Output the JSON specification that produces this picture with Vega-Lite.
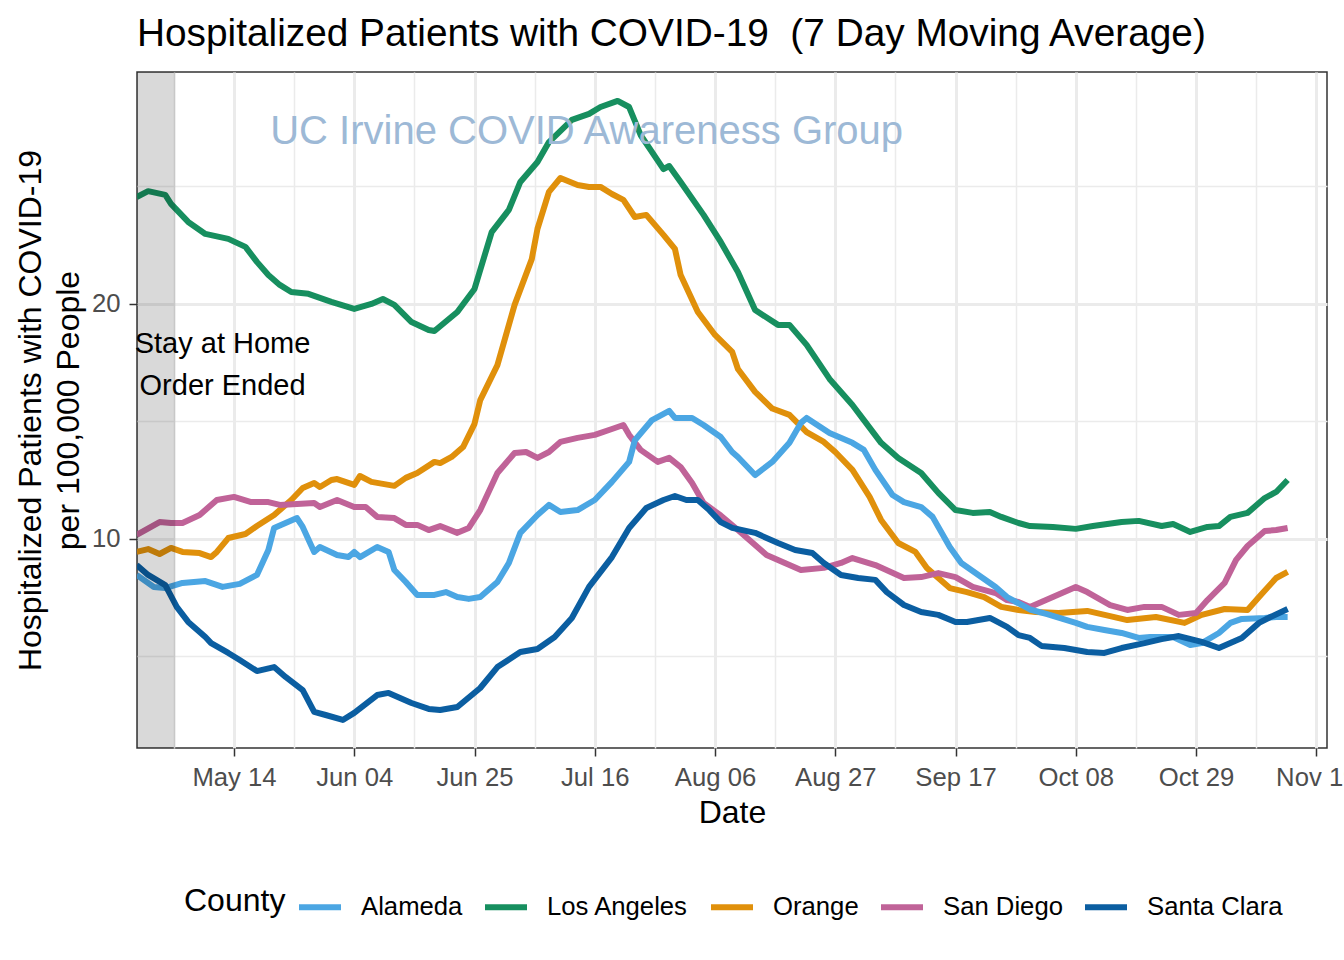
{
"$schema":"https://vega.github.io/schema/vega-lite/v6.json",
"autosize":{"type":"none"},
"width":1190,"height":676,
"padding":{"left":137,"top":72,"right":17,"bottom":212},
"background":"white",
"config":{
 "font":"Liberation Sans",
 "view":{"stroke":"#333333","strokeWidth":1.5},
 "axis":{"domain":false,"gridColor":"#EBEBEB","tickColor":"#333333","tickSize":8,"tickWidth":1.5,"labelColor":"#4D4D4D","labelFontSize":25.7,"titleFontSize":32,"titleFontWeight":"normal","titleColor":"#000000","labelFont":"Liberation Sans","titleFont":"Liberation Sans","labelOverlap":false,"labelFlush":false}
},
"title":{"text":"Hospitalized Patients with COVID-19\u00a0 (7 Day Moving Average)","anchor":"start","frame":"group","fontSize":38.8,"fontWeight":"normal","color":"#000000","offset":18,"font":"Liberation Sans"},
"layer":[
{
"data":{"values":[
{"County":"Los Angeles","Date":"2020-04-27","Value":24.55},
{"County":"Los Angeles","Date":"2020-04-29","Value":24.8},
{"County":"Los Angeles","Date":"2020-05-02","Value":24.64},
{"County":"Los Angeles","Date":"2020-05-03","Value":24.26},
{"County":"Los Angeles","Date":"2020-05-06","Value":23.49},
{"County":"Los Angeles","Date":"2020-05-09","Value":22.98},
{"County":"Los Angeles","Date":"2020-05-13","Value":22.77},
{"County":"Los Angeles","Date":"2020-05-16","Value":22.43},
{"County":"Los Angeles","Date":"2020-05-18","Value":21.79},
{"County":"Los Angeles","Date":"2020-05-20","Value":21.23},
{"County":"Los Angeles","Date":"2020-05-22","Value":20.81},
{"County":"Los Angeles","Date":"2020-05-24","Value":20.51},
{"County":"Los Angeles","Date":"2020-05-27","Value":20.43},
{"County":"Los Angeles","Date":"2020-05-31","Value":20.09},
{"County":"Los Angeles","Date":"2020-06-04","Value":19.79},
{"County":"Los Angeles","Date":"2020-06-07","Value":20.0},
{"County":"Los Angeles","Date":"2020-06-09","Value":20.21},
{"County":"Los Angeles","Date":"2020-06-11","Value":19.96},
{"County":"Los Angeles","Date":"2020-06-14","Value":19.23},
{"County":"Los Angeles","Date":"2020-06-17","Value":18.89},
{"County":"Los Angeles","Date":"2020-06-18","Value":18.85},
{"County":"Los Angeles","Date":"2020-06-22","Value":19.66},
{"County":"Los Angeles","Date":"2020-06-25","Value":20.64},
{"County":"Los Angeles","Date":"2020-06-28","Value":23.06},
{"County":"Los Angeles","Date":"2020-07-01","Value":24.0},
{"County":"Los Angeles","Date":"2020-07-03","Value":25.19},
{"County":"Los Angeles","Date":"2020-07-06","Value":26.04},
{"County":"Los Angeles","Date":"2020-07-08","Value":26.89},
{"County":"Los Angeles","Date":"2020-07-12","Value":27.83},
{"County":"Los Angeles","Date":"2020-07-15","Value":28.09},
{"County":"Los Angeles","Date":"2020-07-17","Value":28.38},
{"County":"Los Angeles","Date":"2020-07-20","Value":28.64},
{"County":"Los Angeles","Date":"2020-07-22","Value":28.38},
{"County":"Los Angeles","Date":"2020-07-24","Value":27.19},
{"County":"Los Angeles","Date":"2020-07-28","Value":25.74},
{"County":"Los Angeles","Date":"2020-07-29","Value":25.87},
{"County":"Los Angeles","Date":"2020-07-31","Value":25.19},
{"County":"Los Angeles","Date":"2020-08-04","Value":23.79},
{"County":"Los Angeles","Date":"2020-08-07","Value":22.64},
{"County":"Los Angeles","Date":"2020-08-10","Value":21.36},
{"County":"Los Angeles","Date":"2020-08-13","Value":19.74},
{"County":"Los Angeles","Date":"2020-08-17","Value":19.11},
{"County":"Los Angeles","Date":"2020-08-19","Value":19.11},
{"County":"Los Angeles","Date":"2020-08-22","Value":18.26},
{"County":"Los Angeles","Date":"2020-08-26","Value":16.81},
{"County":"Los Angeles","Date":"2020-08-30","Value":15.7},
{"County":"Los Angeles","Date":"2020-09-01","Value":15.06},
{"County":"Los Angeles","Date":"2020-09-04","Value":14.09},
{"County":"Los Angeles","Date":"2020-09-07","Value":13.45},
{"County":"Los Angeles","Date":"2020-09-11","Value":12.81},
{"County":"Los Angeles","Date":"2020-09-14","Value":11.96},
{"County":"Los Angeles","Date":"2020-09-17","Value":11.23},
{"County":"Los Angeles","Date":"2020-09-20","Value":11.11},
{"County":"Los Angeles","Date":"2020-09-23","Value":11.15},
{"County":"Los Angeles","Date":"2020-09-25","Value":10.94},
{"County":"Los Angeles","Date":"2020-09-28","Value":10.68},
{"County":"Los Angeles","Date":"2020-09-30","Value":10.55},
{"County":"Los Angeles","Date":"2020-10-04","Value":10.51},
{"County":"Los Angeles","Date":"2020-10-08","Value":10.43},
{"County":"Los Angeles","Date":"2020-10-11","Value":10.55},
{"County":"Los Angeles","Date":"2020-10-16","Value":10.72},
{"County":"Los Angeles","Date":"2020-10-19","Value":10.77},
{"County":"Los Angeles","Date":"2020-10-23","Value":10.55},
{"County":"Los Angeles","Date":"2020-10-25","Value":10.64},
{"County":"Los Angeles","Date":"2020-10-28","Value":10.3},
{"County":"Los Angeles","Date":"2020-10-31","Value":10.51},
{"County":"Los Angeles","Date":"2020-11-02","Value":10.55},
{"County":"Los Angeles","Date":"2020-11-04","Value":10.94},
{"County":"Los Angeles","Date":"2020-11-07","Value":11.11},
{"County":"Los Angeles","Date":"2020-11-10","Value":11.74},
{"County":"Los Angeles","Date":"2020-11-12","Value":12.0},
{"County":"Los Angeles","Date":"2020-11-14","Value":12.51},
{"County":"Orange","Date":"2020-04-27","Value":9.45},
{"County":"Orange","Date":"2020-04-29","Value":9.57},
{"County":"Orange","Date":"2020-05-01","Value":9.36},
{"County":"Orange","Date":"2020-05-03","Value":9.62},
{"County":"Orange","Date":"2020-05-05","Value":9.45},
{"County":"Orange","Date":"2020-05-08","Value":9.4},
{"County":"Orange","Date":"2020-05-10","Value":9.23},
{"County":"Orange","Date":"2020-05-11","Value":9.45},
{"County":"Orange","Date":"2020-05-13","Value":10.04},
{"County":"Orange","Date":"2020-05-16","Value":10.21},
{"County":"Orange","Date":"2020-05-18","Value":10.55},
{"County":"Orange","Date":"2020-05-21","Value":11.02},
{"County":"Orange","Date":"2020-05-24","Value":11.66},
{"County":"Orange","Date":"2020-05-26","Value":12.17},
{"County":"Orange","Date":"2020-05-28","Value":12.38},
{"County":"Orange","Date":"2020-05-29","Value":12.21},
{"County":"Orange","Date":"2020-05-31","Value":12.51},
{"County":"Orange","Date":"2020-06-01","Value":12.55},
{"County":"Orange","Date":"2020-06-04","Value":12.3},
{"County":"Orange","Date":"2020-06-05","Value":12.68},
{"County":"Orange","Date":"2020-06-07","Value":12.43},
{"County":"Orange","Date":"2020-06-11","Value":12.26},
{"County":"Orange","Date":"2020-06-13","Value":12.6},
{"County":"Orange","Date":"2020-06-15","Value":12.81},
{"County":"Orange","Date":"2020-06-18","Value":13.28},
{"County":"Orange","Date":"2020-06-19","Value":13.23},
{"County":"Orange","Date":"2020-06-21","Value":13.49},
{"County":"Orange","Date":"2020-06-23","Value":13.91},
{"County":"Orange","Date":"2020-06-25","Value":14.9},
{"County":"Orange","Date":"2020-06-26","Value":15.91},
{"County":"Orange","Date":"2020-06-29","Value":17.4},
{"County":"Orange","Date":"2020-07-02","Value":19.96},
{"County":"Orange","Date":"2020-07-05","Value":21.91},
{"County":"Orange","Date":"2020-07-06","Value":23.2},
{"County":"Orange","Date":"2020-07-08","Value":24.77},
{"County":"Orange","Date":"2020-07-10","Value":25.36},
{"County":"Orange","Date":"2020-07-13","Value":25.06},
{"County":"Orange","Date":"2020-07-15","Value":24.98},
{"County":"Orange","Date":"2020-07-17","Value":24.98},
{"County":"Orange","Date":"2020-07-19","Value":24.68},
{"County":"Orange","Date":"2020-07-21","Value":24.43},
{"County":"Orange","Date":"2020-07-23","Value":23.7},
{"County":"Orange","Date":"2020-07-25","Value":23.79},
{"County":"Orange","Date":"2020-07-28","Value":22.94},
{"County":"Orange","Date":"2020-07-30","Value":22.34},
{"County":"Orange","Date":"2020-07-31","Value":21.23},
{"County":"Orange","Date":"2020-08-03","Value":19.66},
{"County":"Orange","Date":"2020-08-06","Value":18.68},
{"County":"Orange","Date":"2020-08-09","Value":17.96},
{"County":"Orange","Date":"2020-08-10","Value":17.23},
{"County":"Orange","Date":"2020-08-13","Value":16.26},
{"County":"Orange","Date":"2020-08-16","Value":15.55},
{"County":"Orange","Date":"2020-08-19","Value":15.28},
{"County":"Orange","Date":"2020-08-22","Value":14.55},
{"County":"Orange","Date":"2020-08-25","Value":14.13},
{"County":"Orange","Date":"2020-08-27","Value":13.7},
{"County":"Orange","Date":"2020-08-30","Value":12.94},
{"County":"Orange","Date":"2020-09-02","Value":11.79},
{"County":"Orange","Date":"2020-09-04","Value":10.81},
{"County":"Orange","Date":"2020-09-07","Value":9.83},
{"County":"Orange","Date":"2020-09-10","Value":9.45},
{"County":"Orange","Date":"2020-09-12","Value":8.77},
{"County":"Orange","Date":"2020-09-16","Value":7.91},
{"County":"Orange","Date":"2020-09-19","Value":7.74},
{"County":"Orange","Date":"2020-09-22","Value":7.53},
{"County":"Orange","Date":"2020-09-25","Value":7.11},
{"County":"Orange","Date":"2020-09-28","Value":6.98},
{"County":"Orange","Date":"2020-10-01","Value":6.89},
{"County":"Orange","Date":"2020-10-05","Value":6.85},
{"County":"Orange","Date":"2020-10-10","Value":6.94},
{"County":"Orange","Date":"2020-10-14","Value":6.72},
{"County":"Orange","Date":"2020-10-17","Value":6.55},
{"County":"Orange","Date":"2020-10-22","Value":6.68},
{"County":"Orange","Date":"2020-10-27","Value":6.43},
{"County":"Orange","Date":"2020-10-30","Value":6.77},
{"County":"Orange","Date":"2020-11-03","Value":7.02},
{"County":"Orange","Date":"2020-11-07","Value":6.98},
{"County":"Orange","Date":"2020-11-09","Value":7.53},
{"County":"Orange","Date":"2020-11-12","Value":8.34},
{"County":"Orange","Date":"2020-11-14","Value":8.6},
{"County":"San Diego","Date":"2020-04-27","Value":10.17},
{"County":"San Diego","Date":"2020-05-01","Value":10.72},
{"County":"San Diego","Date":"2020-05-03","Value":10.68},
{"County":"San Diego","Date":"2020-05-05","Value":10.68},
{"County":"San Diego","Date":"2020-05-08","Value":11.02},
{"County":"San Diego","Date":"2020-05-11","Value":11.66},
{"County":"San Diego","Date":"2020-05-14","Value":11.79},
{"County":"San Diego","Date":"2020-05-17","Value":11.57},
{"County":"San Diego","Date":"2020-05-20","Value":11.57},
{"County":"San Diego","Date":"2020-05-22","Value":11.45},
{"County":"San Diego","Date":"2020-05-25","Value":11.49},
{"County":"San Diego","Date":"2020-05-28","Value":11.53},
{"County":"San Diego","Date":"2020-05-29","Value":11.36},
{"County":"San Diego","Date":"2020-06-01","Value":11.66},
{"County":"San Diego","Date":"2020-06-04","Value":11.36},
{"County":"San Diego","Date":"2020-06-06","Value":11.36},
{"County":"San Diego","Date":"2020-06-08","Value":10.94},
{"County":"San Diego","Date":"2020-06-11","Value":10.89},
{"County":"San Diego","Date":"2020-06-13","Value":10.6},
{"County":"San Diego","Date":"2020-06-15","Value":10.6},
{"County":"San Diego","Date":"2020-06-17","Value":10.38},
{"County":"San Diego","Date":"2020-06-19","Value":10.55},
{"County":"San Diego","Date":"2020-06-22","Value":10.26},
{"County":"San Diego","Date":"2020-06-24","Value":10.47},
{"County":"San Diego","Date":"2020-06-26","Value":11.23},
{"County":"San Diego","Date":"2020-06-29","Value":12.81},
{"County":"San Diego","Date":"2020-07-02","Value":13.66},
{"County":"San Diego","Date":"2020-07-04","Value":13.7},
{"County":"San Diego","Date":"2020-07-06","Value":13.45},
{"County":"San Diego","Date":"2020-07-08","Value":13.7},
{"County":"San Diego","Date":"2020-07-10","Value":14.13},
{"County":"San Diego","Date":"2020-07-13","Value":14.3},
{"County":"San Diego","Date":"2020-07-16","Value":14.43},
{"County":"San Diego","Date":"2020-07-19","Value":14.68},
{"County":"San Diego","Date":"2020-07-21","Value":14.85},
{"County":"San Diego","Date":"2020-07-22","Value":14.43},
{"County":"San Diego","Date":"2020-07-24","Value":13.79},
{"County":"San Diego","Date":"2020-07-27","Value":13.28},
{"County":"San Diego","Date":"2020-07-29","Value":13.45},
{"County":"San Diego","Date":"2020-07-31","Value":13.06},
{"County":"San Diego","Date":"2020-08-02","Value":12.38},
{"County":"San Diego","Date":"2020-08-04","Value":11.53},
{"County":"San Diego","Date":"2020-08-07","Value":11.0},
{"County":"San Diego","Date":"2020-08-10","Value":10.38},
{"County":"San Diego","Date":"2020-08-15","Value":9.32},
{"County":"San Diego","Date":"2020-08-19","Value":8.89},
{"County":"San Diego","Date":"2020-08-21","Value":8.68},
{"County":"San Diego","Date":"2020-08-25","Value":8.77},
{"County":"San Diego","Date":"2020-08-28","Value":8.98},
{"County":"San Diego","Date":"2020-08-30","Value":9.19},
{"County":"San Diego","Date":"2020-09-03","Value":8.89},
{"County":"San Diego","Date":"2020-09-08","Value":8.34},
{"County":"San Diego","Date":"2020-09-11","Value":8.38},
{"County":"San Diego","Date":"2020-09-14","Value":8.55},
{"County":"San Diego","Date":"2020-09-17","Value":8.38},
{"County":"San Diego","Date":"2020-09-20","Value":7.96},
{"County":"San Diego","Date":"2020-09-24","Value":7.7},
{"County":"San Diego","Date":"2020-09-26","Value":7.4},
{"County":"San Diego","Date":"2020-09-28","Value":7.32},
{"County":"San Diego","Date":"2020-09-30","Value":7.11},
{"County":"San Diego","Date":"2020-10-04","Value":7.53},
{"County":"San Diego","Date":"2020-10-08","Value":7.96},
{"County":"San Diego","Date":"2020-10-10","Value":7.74},
{"County":"San Diego","Date":"2020-10-14","Value":7.19},
{"County":"San Diego","Date":"2020-10-17","Value":6.98},
{"County":"San Diego","Date":"2020-10-20","Value":7.11},
{"County":"San Diego","Date":"2020-10-23","Value":7.11},
{"County":"San Diego","Date":"2020-10-26","Value":6.77},
{"County":"San Diego","Date":"2020-10-29","Value":6.85},
{"County":"San Diego","Date":"2020-10-31","Value":7.4},
{"County":"San Diego","Date":"2020-11-03","Value":8.13},
{"County":"San Diego","Date":"2020-11-05","Value":9.11},
{"County":"San Diego","Date":"2020-11-07","Value":9.7},
{"County":"San Diego","Date":"2020-11-10","Value":10.34},
{"County":"San Diego","Date":"2020-11-12","Value":10.38},
{"County":"San Diego","Date":"2020-11-14","Value":10.47},
{"County":"Alameda","Date":"2020-04-27","Value":8.47},
{"County":"Alameda","Date":"2020-04-30","Value":7.96},
{"County":"Alameda","Date":"2020-05-02","Value":7.91},
{"County":"Alameda","Date":"2020-05-05","Value":8.13},
{"County":"Alameda","Date":"2020-05-09","Value":8.21},
{"County":"Alameda","Date":"2020-05-12","Value":7.96},
{"County":"Alameda","Date":"2020-05-15","Value":8.09},
{"County":"Alameda","Date":"2020-05-18","Value":8.47},
{"County":"Alameda","Date":"2020-05-20","Value":9.53},
{"County":"Alameda","Date":"2020-05-21","Value":10.47},
{"County":"Alameda","Date":"2020-05-23","Value":10.68},
{"County":"Alameda","Date":"2020-05-25","Value":10.89},
{"County":"Alameda","Date":"2020-05-26","Value":10.51},
{"County":"Alameda","Date":"2020-05-28","Value":9.45},
{"County":"Alameda","Date":"2020-05-29","Value":9.66},
{"County":"Alameda","Date":"2020-06-01","Value":9.32},
{"County":"Alameda","Date":"2020-06-03","Value":9.23},
{"County":"Alameda","Date":"2020-06-04","Value":9.45},
{"County":"Alameda","Date":"2020-06-05","Value":9.23},
{"County":"Alameda","Date":"2020-06-08","Value":9.66},
{"County":"Alameda","Date":"2020-06-10","Value":9.45},
{"County":"Alameda","Date":"2020-06-11","Value":8.68},
{"County":"Alameda","Date":"2020-06-13","Value":8.17},
{"County":"Alameda","Date":"2020-06-15","Value":7.62},
{"County":"Alameda","Date":"2020-06-18","Value":7.62},
{"County":"Alameda","Date":"2020-06-20","Value":7.74},
{"County":"Alameda","Date":"2020-06-22","Value":7.53},
{"County":"Alameda","Date":"2020-06-24","Value":7.45},
{"County":"Alameda","Date":"2020-06-26","Value":7.53},
{"County":"Alameda","Date":"2020-06-29","Value":8.17},
{"County":"Alameda","Date":"2020-07-01","Value":8.98},
{"County":"Alameda","Date":"2020-07-03","Value":10.26},
{"County":"Alameda","Date":"2020-07-06","Value":11.02},
{"County":"Alameda","Date":"2020-07-08","Value":11.45},
{"County":"Alameda","Date":"2020-07-10","Value":11.15},
{"County":"Alameda","Date":"2020-07-13","Value":11.23},
{"County":"Alameda","Date":"2020-07-16","Value":11.66},
{"County":"Alameda","Date":"2020-07-19","Value":12.43},
{"County":"Alameda","Date":"2020-07-22","Value":13.28},
{"County":"Alameda","Date":"2020-07-23","Value":14.2},
{"County":"Alameda","Date":"2020-07-26","Value":15.06},
{"County":"Alameda","Date":"2020-07-29","Value":15.45},
{"County":"Alameda","Date":"2020-07-30","Value":15.15},
{"County":"Alameda","Date":"2020-08-02","Value":15.15},
{"County":"Alameda","Date":"2020-08-04","Value":14.85},
{"County":"Alameda","Date":"2020-08-06","Value":14.51},
{"County":"Alameda","Date":"2020-08-07","Value":14.34},
{"County":"Alameda","Date":"2020-08-09","Value":13.7},
{"County":"Alameda","Date":"2020-08-10","Value":13.49},
{"County":"Alameda","Date":"2020-08-13","Value":12.72},
{"County":"Alameda","Date":"2020-08-16","Value":13.28},
{"County":"Alameda","Date":"2020-08-19","Value":14.09},
{"County":"Alameda","Date":"2020-08-21","Value":14.94},
{"County":"Alameda","Date":"2020-08-22","Value":15.15},
{"County":"Alameda","Date":"2020-08-26","Value":14.51},
{"County":"Alameda","Date":"2020-08-30","Value":14.09},
{"County":"Alameda","Date":"2020-09-01","Value":13.79},
{"County":"Alameda","Date":"2020-09-03","Value":12.94},
{"County":"Alameda","Date":"2020-09-06","Value":11.87},
{"County":"Alameda","Date":"2020-09-08","Value":11.57},
{"County":"Alameda","Date":"2020-09-11","Value":11.36},
{"County":"Alameda","Date":"2020-09-13","Value":10.94},
{"County":"Alameda","Date":"2020-09-16","Value":9.66},
{"County":"Alameda","Date":"2020-09-18","Value":8.98},
{"County":"Alameda","Date":"2020-09-21","Value":8.47},
{"County":"Alameda","Date":"2020-09-24","Value":7.96},
{"County":"Alameda","Date":"2020-09-26","Value":7.53},
{"County":"Alameda","Date":"2020-09-30","Value":7.0},
{"County":"Alameda","Date":"2020-10-03","Value":6.8},
{"County":"Alameda","Date":"2020-10-08","Value":6.43},
{"County":"Alameda","Date":"2020-10-10","Value":6.26},
{"County":"Alameda","Date":"2020-10-13","Value":6.13},
{"County":"Alameda","Date":"2020-10-16","Value":6.0},
{"County":"Alameda","Date":"2020-10-19","Value":5.79},
{"County":"Alameda","Date":"2020-10-21","Value":5.83},
{"County":"Alameda","Date":"2020-10-25","Value":5.83},
{"County":"Alameda","Date":"2020-10-28","Value":5.49},
{"County":"Alameda","Date":"2020-10-30","Value":5.57},
{"County":"Alameda","Date":"2020-11-02","Value":6.0},
{"County":"Alameda","Date":"2020-11-04","Value":6.43},
{"County":"Alameda","Date":"2020-11-06","Value":6.6},
{"County":"Alameda","Date":"2020-11-10","Value":6.64},
{"County":"Alameda","Date":"2020-11-12","Value":6.68},
{"County":"Alameda","Date":"2020-11-14","Value":6.68},
{"County":"Santa Clara","Date":"2020-04-27","Value":8.89},
{"County":"Santa Clara","Date":"2020-04-29","Value":8.47},
{"County":"Santa Clara","Date":"2020-05-02","Value":8.04},
{"County":"Santa Clara","Date":"2020-05-04","Value":7.11},
{"County":"Santa Clara","Date":"2020-05-06","Value":6.47},
{"County":"Santa Clara","Date":"2020-05-09","Value":5.83},
{"County":"Santa Clara","Date":"2020-05-10","Value":5.57},
{"County":"Santa Clara","Date":"2020-05-13","Value":5.15},
{"County":"Santa Clara","Date":"2020-05-15","Value":4.85},
{"County":"Santa Clara","Date":"2020-05-18","Value":4.38},
{"County":"Santa Clara","Date":"2020-05-21","Value":4.55},
{"County":"Santa Clara","Date":"2020-05-23","Value":4.13},
{"County":"Santa Clara","Date":"2020-05-26","Value":3.57},
{"County":"Santa Clara","Date":"2020-05-28","Value":2.64},
{"County":"Santa Clara","Date":"2020-05-30","Value":2.51},
{"County":"Santa Clara","Date":"2020-06-02","Value":2.3},
{"County":"Santa Clara","Date":"2020-06-04","Value":2.6},
{"County":"Santa Clara","Date":"2020-06-08","Value":3.36},
{"County":"Santa Clara","Date":"2020-06-10","Value":3.45},
{"County":"Santa Clara","Date":"2020-06-14","Value":3.02},
{"County":"Santa Clara","Date":"2020-06-17","Value":2.77},
{"County":"Santa Clara","Date":"2020-06-19","Value":2.72},
{"County":"Santa Clara","Date":"2020-06-22","Value":2.85},
{"County":"Santa Clara","Date":"2020-06-26","Value":3.66},
{"County":"Santa Clara","Date":"2020-06-29","Value":4.55},
{"County":"Santa Clara","Date":"2020-07-03","Value":5.19},
{"County":"Santa Clara","Date":"2020-07-06","Value":5.32},
{"County":"Santa Clara","Date":"2020-07-09","Value":5.83},
{"County":"Santa Clara","Date":"2020-07-12","Value":6.64},
{"County":"Santa Clara","Date":"2020-07-15","Value":7.96},
{"County":"Santa Clara","Date":"2020-07-19","Value":9.23},
{"County":"Santa Clara","Date":"2020-07-22","Value":10.47},
{"County":"Santa Clara","Date":"2020-07-25","Value":11.32},
{"County":"Santa Clara","Date":"2020-07-28","Value":11.66},
{"County":"Santa Clara","Date":"2020-07-30","Value":11.83},
{"County":"Santa Clara","Date":"2020-08-01","Value":11.66},
{"County":"Santa Clara","Date":"2020-08-03","Value":11.66},
{"County":"Santa Clara","Date":"2020-08-05","Value":11.23},
{"County":"Santa Clara","Date":"2020-08-07","Value":10.72},
{"County":"Santa Clara","Date":"2020-08-09","Value":10.47},
{"County":"Santa Clara","Date":"2020-08-13","Value":10.26},
{"County":"Santa Clara","Date":"2020-08-17","Value":9.83},
{"County":"Santa Clara","Date":"2020-08-20","Value":9.53},
{"County":"Santa Clara","Date":"2020-08-23","Value":9.4},
{"County":"Santa Clara","Date":"2020-08-25","Value":8.98},
{"County":"Santa Clara","Date":"2020-08-28","Value":8.47},
{"County":"Santa Clara","Date":"2020-08-31","Value":8.34},
{"County":"Santa Clara","Date":"2020-09-03","Value":8.26},
{"County":"Santa Clara","Date":"2020-09-05","Value":7.74},
{"County":"Santa Clara","Date":"2020-09-08","Value":7.19},
{"County":"Santa Clara","Date":"2020-09-11","Value":6.89},
{"County":"Santa Clara","Date":"2020-09-14","Value":6.77},
{"County":"Santa Clara","Date":"2020-09-17","Value":6.47},
{"County":"Santa Clara","Date":"2020-09-19","Value":6.47},
{"County":"Santa Clara","Date":"2020-09-23","Value":6.64},
{"County":"Santa Clara","Date":"2020-09-26","Value":6.26},
{"County":"Santa Clara","Date":"2020-09-28","Value":5.91},
{"County":"Santa Clara","Date":"2020-09-30","Value":5.79},
{"County":"Santa Clara","Date":"2020-10-02","Value":5.45},
{"County":"Santa Clara","Date":"2020-10-06","Value":5.36},
{"County":"Santa Clara","Date":"2020-10-10","Value":5.19},
{"County":"Santa Clara","Date":"2020-10-13","Value":5.15},
{"County":"Santa Clara","Date":"2020-10-16","Value":5.36},
{"County":"Santa Clara","Date":"2020-10-20","Value":5.57},
{"County":"Santa Clara","Date":"2020-10-23","Value":5.74},
{"County":"Santa Clara","Date":"2020-10-26","Value":5.87},
{"County":"Santa Clara","Date":"2020-10-30","Value":5.62},
{"County":"Santa Clara","Date":"2020-11-02","Value":5.36},
{"County":"Santa Clara","Date":"2020-11-06","Value":5.79},
{"County":"Santa Clara","Date":"2020-11-09","Value":6.43},
{"County":"Santa Clara","Date":"2020-11-11","Value":6.68},
{"County":"Santa Clara","Date":"2020-11-14","Value":7.02}
]},
"mark":{"type":"line","strokeWidth":6,"clip":true,"strokeJoin":"round","strokeCap":"butt"},
"encoding":{
 "x":{"field":"Date","type":"temporal",
  "scale":{"type":"utc","domain":[{"year":2020,"month":4,"date":27,"hours":1,"minutes":26,"utc":true},{"year":2020,"month":11,"date":20,"hours":21,"utc":true}]},
  "axis":{"title":"Date","format":"%b %d",
   "values":[{"year":2020,"month":5,"date":3,"hours":12,"utc":true},{"year":2020,"month":5,"date":14,"utc":true},{"year":2020,"month":5,"date":24,"hours":12,"utc":true},{"year":2020,"month":6,"date":4,"utc":true},{"year":2020,"month":6,"date":14,"hours":12,"utc":true},{"year":2020,"month":6,"date":25,"utc":true},{"year":2020,"month":7,"date":5,"hours":12,"utc":true},{"year":2020,"month":7,"date":16,"utc":true},{"year":2020,"month":7,"date":26,"hours":12,"utc":true},{"year":2020,"month":8,"date":6,"utc":true},{"year":2020,"month":8,"date":16,"hours":12,"utc":true},{"year":2020,"month":8,"date":27,"utc":true},{"year":2020,"month":9,"date":6,"hours":12,"utc":true},{"year":2020,"month":9,"date":17,"utc":true},{"year":2020,"month":9,"date":27,"hours":12,"utc":true},{"year":2020,"month":10,"date":8,"utc":true},{"year":2020,"month":10,"date":18,"hours":12,"utc":true},{"year":2020,"month":10,"date":29,"utc":true},{"year":2020,"month":11,"date":8,"hours":12,"utc":true},{"year":2020,"month":11,"date":19,"utc":true}],
   "labelExpr":"utchours(datum.value) == 12 ? '' : datum.label",
   "gridWidth":{"condition":{"test":"utchours(datum.value) == 12","value":1.5},"value":3},
   "tickOpacity":{"condition":{"test":"utchours(datum.value) == 12","value":0},"value":1},
   "labelPadding":9,"titlePadding":8}},
 "y":{"field":"Value","type":"quantitative",
  "scale":{"domain":[1.106,29.87],"nice":false,"zero":false},
  "axis":{"title":["Hospitalized Patients with COVID-19","per 100,000 People"],"titleLineHeight":38,
   "values":[5,10,15,20,25],
   "labelExpr":"datum.value % 10 == 0 ? datum.label : ''",
   "gridWidth":{"condition":{"test":"datum.value % 10 != 0","value":1.5},"value":3},
   "tickOpacity":{"condition":{"test":"datum.value % 10 != 0","value":0},"value":1},
   "labelPadding":9,"titlePadding":6}},
 "color":{"field":"County","type":"nominal",
  "scale":{"domain":["Alameda","Los Angeles","Orange","San Diego","Santa Clara"],"range":["#4BA6E3","#178F5F","#E0900B","#C06398","#0B5EA1"]},
  "legend":{"title":"County","orient":"none","legendX":47,"legendY":811,"direction":"horizontal","columns":5,"titleOrient":"left","titleFontSize":32,"titleFontWeight":"normal","titleColor":"#000000","titlePadding":10,"titleBaseline":"middle","titleAnchor":"middle","labelFontSize":25.7,"labelColor":"#000000","symbolType":"stroke","symbolStrokeWidth":6,"symbolSize":1764,"labelOffset":17,"columnPadding":10,"padding":0}}
}
},
{
"data":{"values":[{}]},
"mark":{"type":"rect","color":"#000000","opacity":0.15,"clip":true},
"encoding":{
 "x":{"datum":{"year":2020,"month":4,"date":20,"utc":true},"type":"temporal"},
 "x2":{"datum":{"year":2020,"month":5,"date":3,"hours":18,"utc":true}},
 "y":{"datum":0,"type":"quantitative"},
 "y2":{"datum":40}
}
},
{
"data":{"values":[{}]},
"mark":{"type":"text","text":["Stay at Home","Order Ended"],"fontSize":29,"lineHeight":42,"font":"Liberation Sans","color":"#000000","align":"center","baseline":"middle"},
"encoding":{
 "x":{"datum":{"year":2020,"month":5,"date":12,"utc":true},"type":"temporal"},
 "y":{"datum":18.3,"type":"quantitative"}
}
},
{
"data":{"values":[{}]},
"mark":{"type":"text","text":"UC Irvine COVID Awareness Group","fontSize":40,"font":"Liberation Sans","color":"#9DB9D6","align":"center","baseline":"alphabetic"},
"encoding":{
 "x":{"datum":{"year":2020,"month":7,"date":14,"hours":14,"utc":true},"type":"temporal"},
 "y":{"datum":26.82,"type":"quantitative"}
}
}
]
}
